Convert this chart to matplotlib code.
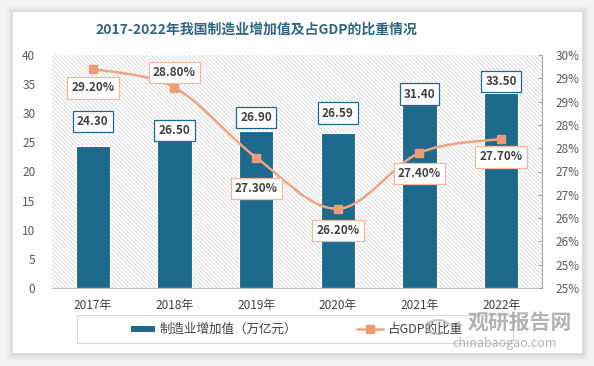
import numpy as np
import matplotlib
matplotlib.use("Agg")
import matplotlib.pyplot as plt
from matplotlib.patches import Rectangle, PathPatch, Wedge
from matplotlib.path import Path
from matplotlib.lines import Line2D

plt.rcParams["font.family"] = ["Noto Sans CJK SC", "DejaVu Sans"]
plt.rcParams["hatch.linewidth"] = 0.5
plt.rcParams["hatch.color"] = "#CFCFCF"

# data
years = ["2017年", "2018年", "2019年", "2020年", "2021年", "2022年"]
value_added = [24.30, 26.50, 26.90, 26.59, 31.40, 33.50]
gdp_share = [29.20, 28.80, 27.30, 26.20, 27.40, 27.70]
bar_name = "制造业增加值（万亿元）"
line_name = "占GDP的比重"
title = "2017-2022年我国制造业增加值及占GDP的比重情况"

# label offsets in pixels (layout only)
bar_label_off = [25, 3, 14, 20, 11, 11]
line_label_off = [-19, 15, -31, -22, -21, -18]

BAR = "#1D6A8D"
LINE = "#F0A582"
MARK = "#EE9B78"
TXT = "#404040"
PX = 0.72  # points per pixel at dpi 100

fig = plt.figure(figsize=(5.94, 3.66), dpi=100, facecolor="#F4F4F4")

# card with soft shadow
W, H = 594.0, 366.0
for i, a in enumerate([0.05, 0.05, 0.05, 0.06]):
    g = 6 - i * 1.5
    fig.patches.append(Rectangle(((13 - g) / W, (366 - 354 - g) / H), (570 + 2 * g) / W,
                                 (342 + 2 * g) / H, transform=fig.transFigure,
                                 facecolor="#808080", alpha=a, lw=0, zorder=-3))
fig.patches.append(Rectangle((13 / W, (366 - 353) / H), 569 / W, 341 / H,
                             transform=fig.transFigure, facecolor="white", lw=0, zorder=-2))

fig.text(256 / W, 1 - 30 / H, title, ha="center", va="center", fontsize=10,
         fontweight="bold", color="#2F6683")

ax = fig.add_axes([52 / W, 78 / H, 490 / W, 233 / H])
ax.patch.set_alpha(0)
ax.add_patch(Rectangle((0, 0), 1, 1, transform=ax.transAxes, facecolor="white",
                       edgecolor="#CFCFCF", hatch="\\" * 8, lw=0, zorder=0))
x = np.arange(len(years))
ax.bar(x, value_added, width=0.42, color=BAR, edgecolor="white", linewidth=0.8, zorder=2)
ax.set_xlim(-0.5, len(years) - 0.5)
ax.set_ylim(0, 40)
ax.set_yticks(np.arange(0, 41, 5))
ax.set_xticks(x)
ax.set_xticklabels(years)
ax.tick_params(axis="x", length=0, pad=8, labelsize=8.5, colors=TXT)
ax.tick_params(axis="y", length=0, pad=12, labelsize=8.5, colors="#595959")
for s in ["top", "left", "right"]:
    ax.spines[s].set_visible(False)
ax.spines["bottom"].set_color("#BFBFBF")
ax.spines["bottom"].set_linewidth(0.8)

ax2 = ax.twinx()
ax2.set_ylim(24.5, 29.5)
rt = np.arange(24.5, 29.51, 0.5)
ax2.set_yticks(rt)
ax2.set_yticklabels([f"{int(v + 0.5 + 1e-9)}%" for v in rt])
ax2.tick_params(axis="y", direction="in", length=3, pad=10, labelsize=8.5,
                colors="#595959", color="#A6A6A6")
for s in ["top", "left", "bottom"]:
    ax2.spines[s].set_visible(False)
ax2.spines["right"].set_color("#A6A6A6")
ax2.spines["right"].set_linewidth(0.8)

# smoothed line (Catmull-Rom as cubic beziers)
pts = np.column_stack([x, gdp_share]).astype(float)
ext = np.vstack([pts[0], pts, pts[-1]])
verts = [tuple(pts[0])]
codes = [Path.MOVETO]
for i in range(len(pts) - 1):
    p0, p1, p2, p3 = ext[i], ext[i + 1], ext[i + 2], ext[i + 3]
    c1 = p1 + (p2 - p0) / 6.0
    c2 = p2 - (p3 - p1) / 6.0
    verts += [tuple(c1), tuple(c2), tuple(p2)]
    codes += [Path.CURVE4] * 3
ax2.add_patch(PathPatch(Path(verts, codes), facecolor="none", edgecolor=LINE, lw=1.8, zorder=3))
ax2.plot(x, gdp_share, linestyle="none", marker="s", markersize=5.5, color=MARK, zorder=4)

for i, v in enumerate(value_added):
    ax2.annotate(f"{v:.2f}", xy=(x[i], v), xycoords=ax.transData,
                 xytext=(0, bar_label_off[i] * PX), textcoords="offset points",
                 ha="center", va="center", fontsize=8.5, fontweight="bold", color=TXT,
                 bbox=dict(boxstyle="square,pad=0.35", fc="white", ec=BAR, lw=0.9), zorder=6)
for i, v in enumerate(gdp_share):
    ax2.annotate(f"{v:.2f}%", xy=(x[i], v), xytext=(0, line_label_off[i] * PX),
                 textcoords="offset points", ha="center", va="center", fontsize=8.5,
                 fontweight="bold", color=TXT,
                 bbox=dict(boxstyle="square,pad=0.35", fc="white", ec="#F2B8A2", lw=0.9),
                 zorder=6)

# legend drawn by hand
fig.patches.append(Rectangle((77 / W, (366 - 343) / H), 436 / W, 28 / H,
                             transform=fig.transFigure, facecolor="white",
                             edgecolor="#D9D9D9", lw=0.8, zorder=2))
ly = 1 - 329 / H
fig.patches.append(Rectangle((131 / W, ly - 3 / H), 24 / W, 6 / H, transform=fig.transFigure,
                             facecolor=BAR, lw=0, zorder=3))
fig.text(160 / W, ly, bar_name, ha="left", va="center", fontsize=9, color=TXT)
fig.lines.append(Line2D([357 / W, 383 / W], [ly, ly], transform=fig.transFigure,
                        color=LINE, lw=1.8, zorder=3))
fig.lines.append(Line2D([370 / W], [ly], transform=fig.transFigure, marker="s",
                        markersize=5.5, color=MARK, linestyle="none", zorder=3))
fig.text(387 / W, ly, line_name, ha="left", va="center", fontsize=9, color=TXT)

# watermark
fig.text(520 / W, 1 - 322 / H, "观研报告网", ha="center", va="center", fontsize=15,
         fontweight="bold", color="#9A9A9A", alpha=0.75, zorder=5)
fig.text(505 / W, 1 - 343 / H, "chinabaogao.com", ha="center", va="center", fontsize=9,
         color="#9A9A9A", alpha=0.75, zorder=5)
fig.patches.append(Wedge((438 / W, 1 - 327 / H), 13 / W, 20, 300, width=4 / W,
                         transform=fig.transFigure, facecolor="#A8A8A8",
                         alpha=0.6, lw=0, zorder=5))

fig.savefig("out.png", dpi=100, facecolor=fig.get_facecolor())
